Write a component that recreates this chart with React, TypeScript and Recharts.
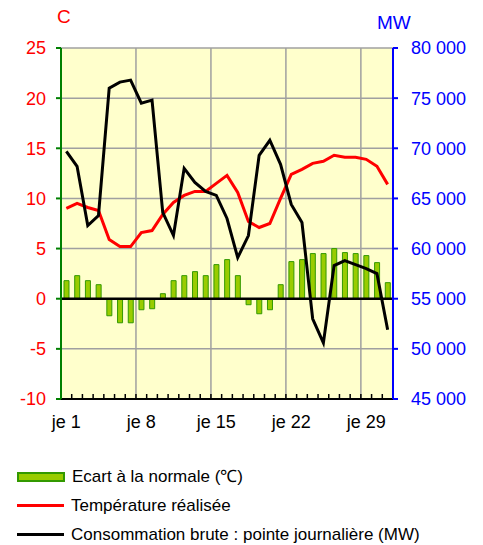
import React from "react";
import {
  ComposedChart,
  Bar,
  Line,
  XAxis,
  YAxis,
  CartesianGrid,
  ReferenceLine,
} from "recharts";

const days = [
  1, 2, 3, 4, 5, 6, 7, 8, 9, 10, 11, 12, 13, 14, 15, 16, 17, 18, 19, 20, 21,
  22, 23, 24, 25, 26, 27, 28, 29, 30, 31,
];

// écart à la normale (°C)
const ecart = [
  1.8, 2.3, 1.8, 1.4, -1.7, -2.4, -2.4, -1.1, -1.0, 0.5, 1.8, 2.3, 2.7, 2.3,
  3.4, 3.9, 2.3, -0.6, -1.5, -1.1, 1.4, 3.7, 3.9, 4.5, 4.5, 5.0, 4.6, 4.5, 4.3,
  3.6, 1.6,
];

// température réalisée (°C)
const temperature = [
  9.0, 9.5, 9.1, 8.8, 5.9, 5.2, 5.2, 6.6, 6.8, 8.4, 9.6, 10.3, 10.7, 10.7, 11.5,
  12.3, 10.6, 7.7, 7.1, 7.5, 10.0, 12.4, 12.9, 13.5, 13.7, 14.3, 14.1, 14.1,
  13.9, 13.2, 11.4,
];

// consommation brute, pointe journalière (MW)
const consommation = [
  69700, 68200, 62300, 63300, 76000, 76600, 76800, 74500, 74800, 63600, 61300,
  68000, 66600, 65700, 65300, 63000, 59100, 61300, 69300, 70800, 68400, 64400,
  62600, 53000, 50600, 58300, 58800, 58400, 58000, 57500, 51900,
];

const dayTicks = [1, 8, 15, 22, 29];
const weekLines = [7.5, 14.5, 21.5, 28.5];
const leftTicks = [-10, -5, 0, 5, 10, 15, 20, 25];
const rightTicks = [45000, 50000, 55000, 60000, 65000, 70000, 75000, 80000];

const data = days.map((d, i) => ({
  day: d,
  ecart: ecart[i],
  temperature: temperature[i],
  conso: consommation[i],
}));

// bornes entre les jours, pour les petites graduations
const bounds = [0, ...days].map((d) => d + 0.5);

const fmtMW = (v: number) =>
  String(v).replace(/\B(?=(\d{3})+(?!\d))/g, " ");

const font = "'Liberation Sans', Arial, sans-serif";

const App = () => {
  return (
    <div
      style={{
        position: "absolute",
        left: 0,
        top: 0,
        width: 483,
        height: 545,
        background: "#fff",
        fontFamily: font,
      }}
    >
      <div
        style={{
          position: "absolute",
          left: 57,
          top: 6,
          color: "#ff0000",
          fontSize: 19,
        }}
      >
        C
      </div>
      <div
        style={{
          position: "absolute",
          left: 377,
          top: 12,
          color: "#0000ff",
          fontSize: 19,
        }}
      >
        MW
      </div>

      <ComposedChart
        width={483}
        height={545}
        data={data}
        margin={{ top: 48, right: 10, left: 11, bottom: 116 }}
        style={{ fontFamily: font }}
      >
        <CartesianGrid
          yAxisId="left"
          vertical={false}
          stroke="#a0a0a0"
          strokeWidth={1.5}
          fill="#ffffcc"
          fillOpacity={1}
        />
        <XAxis
          dataKey="day"
          type="number"
          domain={[0.5, 31.5]}
          ticks={dayTicks}
          tickFormatter={(v) => `je ${v}`}
          tickLine={false}
          tickSize={0}
          tickMargin={16}
          height={30}
          axisLine={{ stroke: "#000", strokeWidth: 2 }}
          tick={{ fill: "#000", fontSize: 18 }}
          interval={0}
        />
        <YAxis
          yAxisId="left"
          domain={[-10, 25]}
          ticks={leftTicks}
          width={50}
          tickSize={5}
          tickMargin={10}
          axisLine={{ stroke: "#008000", strokeWidth: 2 }}
          tickLine={{ stroke: "#008000", strokeWidth: 2 }}
          tick={{ fill: "#ff0000", fontSize: 18 }}
          interval={0}
          allowDataOverflow
        />
        <YAxis
          yAxisId="right"
          orientation="right"
          domain={[45000, 80000]}
          ticks={rightTicks}
          tickFormatter={fmtMW}
          width={80}
          tickSize={5}
          tickMargin={13}
          axisLine={{ stroke: "#0000ff", strokeWidth: 2 }}
          tickLine={{ stroke: "#0000ff", strokeWidth: 2 }}
          tick={{ fill: "#0000ff", fontSize: 18 }}
          interval={0}
          allowDataOverflow
        />
        {weekLines.map((x) => (
          <ReferenceLine
            key={"w" + x}
            yAxisId="left"
            x={x}
            stroke="#a0a0a0"
            strokeWidth={1.5}
          />
        ))}
        {bounds.map((x) => (
          <ReferenceLine
            key={"b" + x}
            yAxisId="left"
            segment={[
              { x, y: -10 },
              { x, y: -9.5 },
            ]}
            stroke="#000"
            strokeWidth={1.5}
          />
        ))}
        <ReferenceLine yAxisId="left" y={0} stroke="#000" strokeWidth={2.5} />
        <Bar
          yAxisId="left"
          dataKey="ecart"
          barSize={5}
          fill="#99cc00"
          stroke="#339900"
          strokeWidth={1}
          isAnimationActive={false}
        />
        <Line
          yAxisId="left"
          dataKey="temperature"
          type="linear"
          stroke="#ff0000"
          strokeWidth={3}
          dot={false}
          isAnimationActive={false}
        />
        <Line
          yAxisId="right"
          dataKey="conso"
          type="linear"
          stroke="#000"
          strokeWidth={3}
          dot={false}
          isAnimationActive={false}
        />
      </ComposedChart>

      <div
        style={{
          position: "absolute",
          left: 17,
          top: 462,
          fontSize: 17,
          color: "#000",
          lineHeight: "29px",
        }}
      >
        <div style={{ display: "flex", alignItems: "center" }}>
          <span
            style={{
              display: "inline-block",
              width: 44,
              height: 6,
              background: "#99cc00",
              border: "2px solid #339900",
              marginRight: 7,
            }}
          />
          Ecart à la normale (℃)
        </div>
        <div style={{ display: "flex", alignItems: "center" }}>
          <span
            style={{
              display: "inline-block",
              width: 47,
              height: 3,
              background: "#ff0000",
              marginRight: 7,
            }}
          />
          Température réalisée
        </div>
        <div style={{ display: "flex", alignItems: "center" }}>
          <span
            style={{
              display: "inline-block",
              width: 47,
              height: 3,
              background: "#000",
              marginRight: 7,
            }}
          />
          Consommation brute : pointe journalière (MW)
        </div>
      </div>
    </div>
  );
};

export default App;
